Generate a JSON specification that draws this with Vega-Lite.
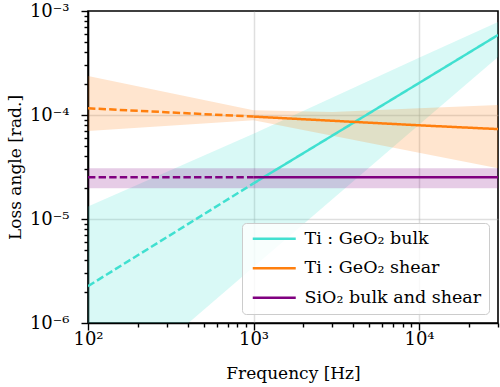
{
  "$schema": "https://vega.github.io/schema/vega-lite/v6.json",
  "width": 410,
  "height": 312,
  "autosize": {"type": "none"},
  "padding": {"left": 88, "top": 11, "right": 2, "bottom": 64},
  "background": "white",
  "config": {
    "font": "DejaVu Serif",
    "view": {"stroke": "black", "strokeWidth": 1.6},
    "axis": {
      "domainColor": "black", "domainWidth": 1.6,
      "tickColor": "black", "tickWidth": 1.4,
      "labelColor": "black", "labelFont": "DejaVu Serif", "labelFontSize": 18,
      "titleColor": "black", "titleFont": "DejaVu Serif", "titleFontSize": 17, "titleFontWeight": "normal",
      "gridColor": "#b0b0b0", "gridWidth": 1.5,
      "labelOverlap": false, "labelFlush": false, "zindex": 1
    }
  },
  "datasets": {
    "lines": [
      {"series": "Ti : GeO₂ bulk", "seg": "extrap", "f": 100, "v": 2.26e-6},
      {"series": "Ti : GeO₂ bulk", "seg": "extrap", "f": 1000, "v": 2.2e-5},
      {"series": "Ti : GeO₂ bulk", "seg": "fit", "f": 1000, "v": 2.2e-5},
      {"series": "Ti : GeO₂ bulk", "seg": "fit", "f": 10000, "v": 2.03e-4},
      {"series": "Ti : GeO₂ bulk", "seg": "fit", "f": 30000, "v": 5.88e-4},
      {"series": "Ti : GeO₂ shear", "seg": "extrap", "f": 100, "v": 1.16e-4},
      {"series": "Ti : GeO₂ shear", "seg": "extrap", "f": 1000, "v": 9.65e-5},
      {"series": "Ti : GeO₂ shear", "seg": "fit", "f": 1000, "v": 9.65e-5},
      {"series": "Ti : GeO₂ shear", "seg": "fit", "f": 10000, "v": 7.96e-5},
      {"series": "Ti : GeO₂ shear", "seg": "fit", "f": 30000, "v": 7.32e-5},
      {"series": "SiO₂ bulk and shear", "seg": "extrap", "f": 100, "v": 2.52e-5},
      {"series": "SiO₂ bulk and shear", "seg": "extrap", "f": 1000, "v": 2.52e-5},
      {"series": "SiO₂ bulk and shear", "seg": "fit", "f": 1000, "v": 2.52e-5},
      {"series": "SiO₂ bulk and shear", "seg": "fit", "f": 30000, "v": 2.52e-5}
    ],
    "bands": [
      {"band": "bulk", "f": 100, "lo": 1.48e-7, "hi": 1.32e-5},
      {"band": "bulk", "f": 1000, "lo": 3.45e-6, "hi": 6.6e-5},
      {"band": "bulk", "f": 10000, "lo": 8.05e-5, "hi": 3.55e-4},
      {"band": "bulk", "f": 30000, "lo": 3.62e-4, "hi": 7.83e-4},
      {"band": "shear", "f": 100, "lo": 7.0e-5, "hi": 2.37e-4},
      {"band": "shear", "f": 1000, "lo": 8.9e-5, "hi": 1.11e-4},
      {"band": "shear", "f": 3000, "lo": 6.3e-5, "hi": 1.07e-4},
      {"band": "shear", "f": 10000, "lo": 4.34e-5, "hi": 1.16e-4},
      {"band": "shear", "f": 30000, "lo": 3.08e-5, "hi": 1.25e-4},
      {"band": "silica", "f": 100, "lo": 1.98e-5, "hi": 3.07e-5},
      {"band": "silica", "f": 30000, "lo": 1.98e-5, "hi": 3.07e-5}
    ]
  },
  "encoding": {
    "x": {
      "field": "f", "type": "quantitative",
      "scale": {"type": "log", "domain": [100, 30000], "nice": false},
      "axis": {
        "title": "Frequency [Hz]",
        "values": [100, 200, 300, 400, 500, 600, 700, 800, 900, 1000, 2000, 3000, 4000, 5000, 6000, 7000, 8000, 9000, 10000, 20000, 30000],
        "labelExpr": "datum.value == 100 ? '10²' : datum.value == 1000 ? '10³' : datum.value == 10000 ? '10⁴' : ''",
        "tickSize": {"condition": {"test": "datum.value == 100 || datum.value == 1000 || datum.value == 10000", "value": 7}, "value": 4},
        "gridOpacity": {"condition": {"test": "datum.value == 1000 || datum.value == 10000", "value": 0.4}, "value": 0},
        "grid": true,
        "labelPadding": 0,
        "titlePadding": 17
      }
    },
    "y": {
      "field": "v", "type": "quantitative",
      "scale": {"type": "log", "domain": [1e-6, 1e-3], "nice": false},
      "axis": {
        "title": "Loss angle [rad.]",
        "values": [1e-6, 2e-6, 3e-6, 4e-6, 5e-6, 6e-6, 7e-6, 8e-6, 9e-6, 1e-5, 2e-5, 3e-5, 4e-5, 5e-5, 6e-5, 7e-5, 8e-5, 9e-5, 1e-4, 2e-4, 3e-4, 4e-4, 5e-4, 6e-4, 7e-4, 8e-4, 9e-4, 1e-3],
        "labelExpr": "abs(datum.value - 1e-6) < 1e-9 ? '10⁻⁶' : abs(datum.value - 1e-5) < 1e-8 ? '10⁻⁵' : abs(datum.value - 1e-4) < 1e-7 ? '10⁻⁴' : abs(datum.value - 1e-3) < 1e-6 ? '10⁻³' : ''",
        "tickSize": {"condition": {"test": "abs(datum.value - 1e-6) < 1e-9 || abs(datum.value - 1e-5) < 1e-8 || abs(datum.value - 1e-4) < 1e-7 || abs(datum.value - 1e-3) < 1e-6", "value": 7}, "value": 4},
        "gridOpacity": {"condition": {"test": "abs(datum.value - 1e-5) < 1e-8 || abs(datum.value - 1e-4) < 1e-7", "value": 0.4}, "value": 0},
        "grid": true,
        "labelPadding": 12,
        "titlePadding": 5
      }
    }
  },
  "layer": [
    {
      "data": {"name": "bands"},
      "mark": {"type": "area", "clip": true, "opacity": 0.2},
      "encoding": {
        "y": {"field": "hi", "type": "quantitative"},
        "y2": {"field": "lo"},
        "fill": {
          "field": "band", "type": "nominal", "legend": null,
          "scale": {"domain": ["bulk", "shear", "silica"], "range": ["#40e0d0", "#ff7f0e", "#800080"]}
        }
      }
    },
    {
      "data": {"name": "lines"},
      "mark": {"type": "line", "clip": true, "strokeWidth": 2.5},
      "encoding": {
        "stroke": {
          "field": "series", "type": "nominal",
          "scale": {"domain": ["Ti : GeO₂ bulk", "Ti : GeO₂ shear", "SiO₂ bulk and shear"], "range": ["#40e0d0", "#ff7f0e", "#800080"]},
          "legend": {
            "title": null, "orient": "none", "legendX": 154, "legendY": 212,
            "fillColor": "rgba(255,255,255,0.8)", "strokeColor": "#cccccc", "cornerRadius": 4,
            "padding": 7, "symbolType": "M-1,0H7.6", "symbolSize": 100, "symbolStrokeWidth": 2.5,
            "labelFont": "DejaVu Serif", "labelFontSize": 17.5, "labelColor": "black", "labelLimit": 0,
            "labelOffset": 38, "rowPadding": 10.5
          }
        },
        "strokeDash": {
          "field": "seg", "type": "nominal", "legend": null,
          "scale": {"domain": ["fit", "extrap"], "range": [[1, 0], [7.4, 3.2]]}
        },
        "detail": {"field": "seg"}
      }
    }
  ]
}
